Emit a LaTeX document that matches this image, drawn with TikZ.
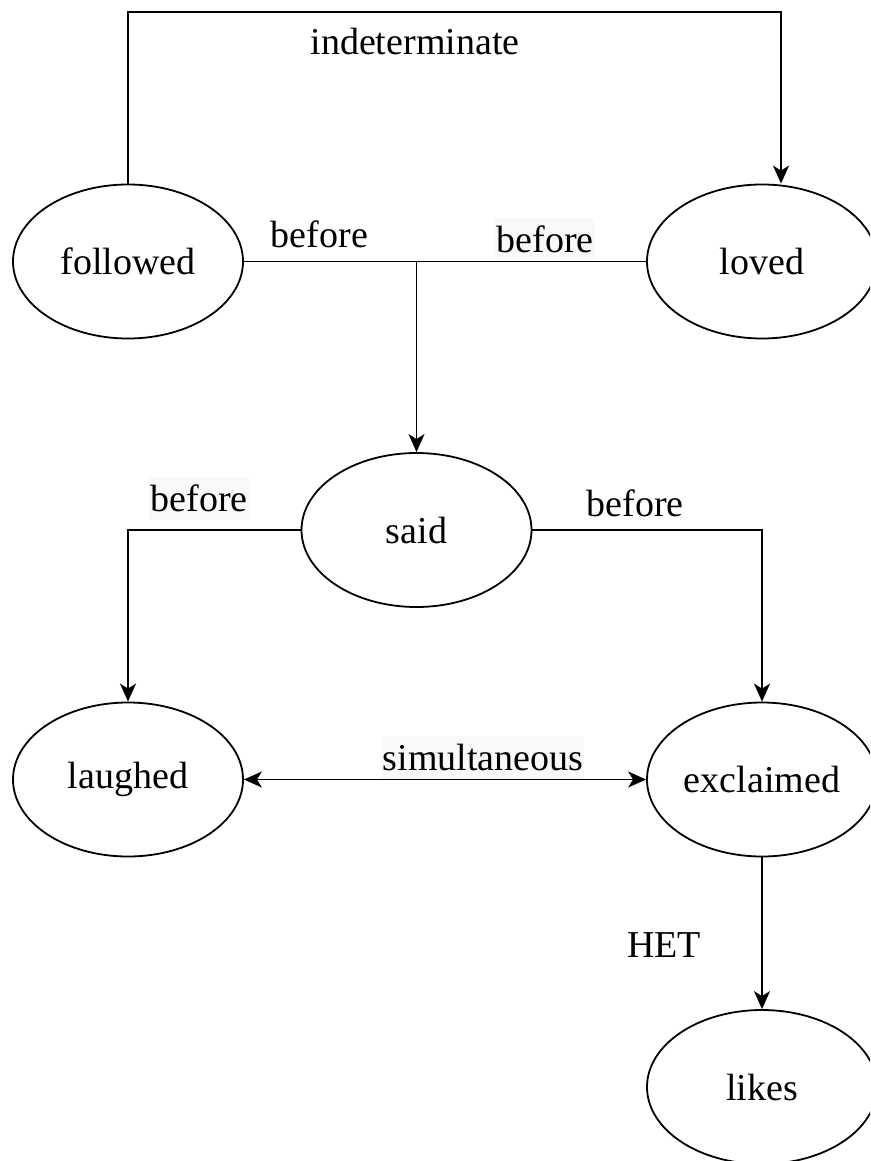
\documentclass[tikz,border=0pt]{standalone}
\usepackage{fontspec}
\setmainfont{Liberation Serif}
\usetikzlibrary{shapes.geometric,arrows.meta}
\definecolor{labelbg}{HTML}{F8F9FA}
\tikzset{
  event/.style={ellipse, draw, line width=1.8pt, minimum width=230pt, minimum height=154pt,
    inner sep=0pt, font=\fontsize{38}{44}\selectfont},
  rel/.style={font=\fontsize{38}{44}\selectfont, inner xsep=1pt, inner ysep=3pt,
    text height=31pt, text depth=6pt},
  relbg/.style={rel, fill=labelbg},
  link/.style={line width=1.8pt},
  tip/.style={Stealth[length=18pt, width=16pt, inset=5pt]},
  arr/.style={link, -{Stealth[length=18pt, width=16pt, inset=5pt]}},
  biarr/.style={link, {Stealth[length=18pt, width=16pt, inset=5pt]}-{Stealth[length=18pt, width=16pt, inset=5pt]}}
}
\begin{document}
\begin{tikzpicture}[x=1pt, y=-1pt]
  \useasboundingbox (0,0) rectangle (870,1161);
  \clip (0,0) rectangle (870,1161);
  \fill[white] (0,0) rectangle (870,1161);

  % events
  \node[event] (fol) at (128,261.5) {followed};
  \node[event] (lov) at (762,261.5) {loved};
  \node[event] (sai) at (416.5,530) {said};
  \node[event] (lau) at (128,779.5) {laughed};
  \node[event] (exc) at (762,779.5) {exclaimed};
  \node[event] (lik) at (762,1087) {likes};

  % routing points
  \coordinate (topR) at (781,12);
  \coordinate (jn) at (sai.north |- fol.east);

  % followed -> loved over the top
  \draw[arr] (fol.north) |- (topR) -- (topR |- lov.north);
  % followed, loved -> said
  \draw[link] (fol.east) -- (lov.west);
  \draw[arr] (jn) -- (sai.north);
  % said -> laughed, said -> exclaimed
  \draw[arr] (sai.west) -| (lau.north);
  \draw[arr] (sai.east) -| (exc.north);
  % laughed <-> exclaimed
  \draw[biarr] (lau.east) -- (exc.west);
  % exclaimed -> likes
  \draw[arr] (exc.south) -- (lik.north);

  % relation labels
  \node[rel] (lInd) at (415,42.5) {indeterminate};
  \node[rel] (lB1) at (319.5,234.5) {before};
  \node[relbg] (lB2) at (545,239.5) {before};
  \node[relbg] (lB3) at (199,498.5) {before};
  \node[rel] (lB4) at (635,503.5) {before};
  \node[relbg] (lSim) at (483,757.5) {simultaneous};
  \node[rel] (lHet) at (664,944.5) {HET};
\end{tikzpicture}
\end{document}
